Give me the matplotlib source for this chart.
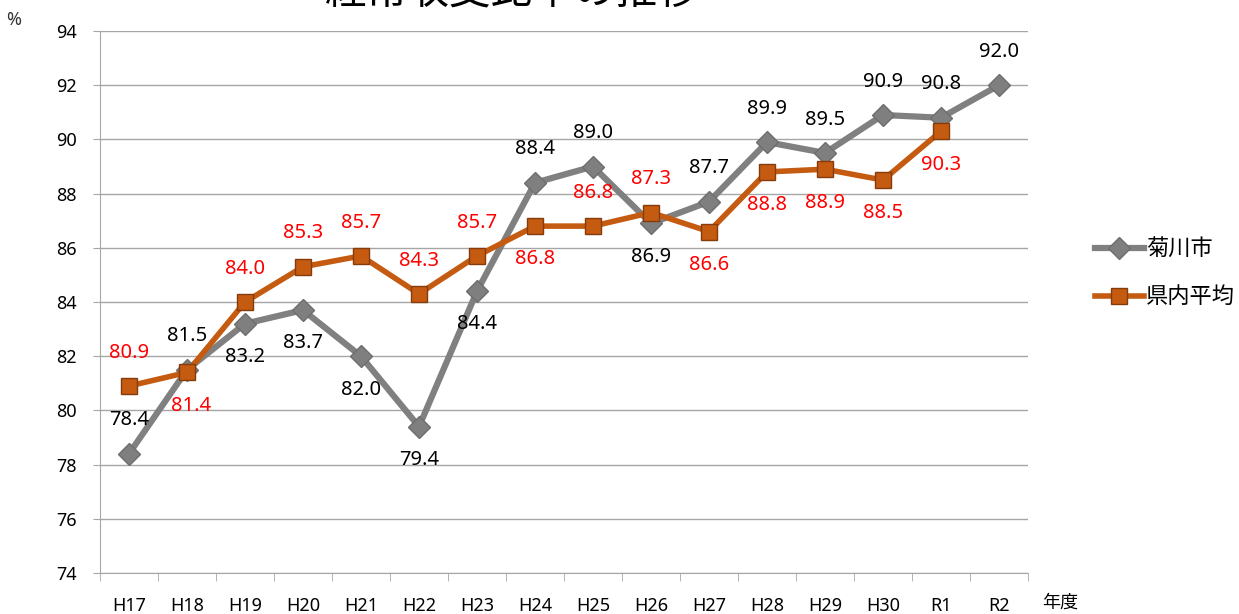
import matplotlib
matplotlib.use("Agg")
import matplotlib.pyplot as plt
import numpy as np

plt.rcParams['font.family'] = ['Noto Sans', 'Noto Sans CJK JP', 'DejaVu Sans']

# 年度
years = ["H17", "H18", "H19", "H20", "H21", "H22", "H23", "H24",
         "H25", "H26", "H27", "H28", "H29", "H30", "R1", "R2"]

# 菊川市
kikugawa = [78.4, 81.5, 83.2, 83.7, 82.0, 79.4, 84.4, 88.4,
            89.0, 86.9, 87.7, 89.9, 89.5, 90.9, 90.8, 92.0]

# 県内平均 (R2はなし)
kennai = [80.9, 81.4, 84.0, 85.3, 85.7, 84.3, 85.7, 86.8,
          86.8, 87.3, 86.6, 88.8, 88.9, 88.5, 90.3]

# ラベル位置 (1:上, -1:下)
kiku_pos = [1, 1, -1, -1, -1, -1, -1, 1, 1, -1, 1, 1, 1, 1, 1, 1]
ken_pos = [1, -1, 1, 1, 1, 1, 1, -1, 1, 1, -1, -1, -1, -1, -1]

W, H = 1239, 614
fig = plt.figure(figsize=(W / 100, H / 100), dpi=100)
ax = fig.add_axes([100 / W, 1 - 573 / H, 928 / W, 542 / H])

x = np.arange(len(years))
xk = np.arange(len(kennai))

grey = "#808080"
orange = "#C55A11"

ax.plot(x, kikugawa, color=grey, lw=4.5, marker="D", ms=11,
        mfc="#7F7F7F", mec="#6E6E6E", label="菊川市", zorder=3)
ax.plot(xk, kennai, color=orange, lw=4, marker="s", ms=12,
        mfc="#C55A11", mec="#843C0C", mew=1, label="県内平均", zorder=4)

for i, v in enumerate(kikugawa):
    ax.annotate(f"{v:.1f}", (i, v), xytext=(0, 24 * kiku_pos[i]),
                textcoords="offset points", ha="center", va="center",
                fontsize=14.5, color="#000000")
for i, v in enumerate(kennai):
    dx = 3 if i == 1 else 0
    ax.annotate(f"{v:.1f}", (i, v), xytext=(dx, 24 * ken_pos[i]),
                textcoords="offset points", ha="center", va="center",
                fontsize=14.5, color="#FF0000")

ax.set_xlim(-0.5, len(years) - 0.5)
ax.set_ylim(74, 94)
ax.set_yticks(np.arange(74, 95, 2))
ax.set_xticks(x)
ax.set_xticklabels(years)
ax.set_xticks(np.arange(-0.5, len(years), 1), minor=True)
ax.tick_params(axis="x", which="major", length=0, labelsize=13, pad=17)
ax.tick_params(axis="x", which="minor", length=6, color="#A6A6A6")
ax.tick_params(axis="y", length=5, color="#A6A6A6", labelsize=13, pad=12)

ax.grid(axis="y", color="#A6A6A6", lw=1)
ax.set_axisbelow(True)
for s in ["top", "right"]:
    ax.spines[s].set_visible(False)
ax.spines["left"].set_color("#A6A6A6")
ax.spines["bottom"].set_color("#A6A6A6")

fig.text(14 / W, 1 - 20 / H, "%", fontsize=13, ha="center", va="center",
         color="#333333")
fig.text(1060 / W, 1 - 603 / H, "年度", fontsize=13, ha="center", va="center")
fig.text(512 / W, 1 - (-8) / H, "経常収支比率の推移", fontsize=30,
         ha="center", va="center", family=['Noto Sans CJK JP'])

ax.legend(loc="center left", bbox_to_anchor=(1075 / W, 1 - 274 / H),
          bbox_transform=fig.transFigure, frameon=False, fontsize=16,
          handlelength=2.2, labelspacing=1.2, handletextpad=0.1)

fig.savefig("out.png", dpi=100)
